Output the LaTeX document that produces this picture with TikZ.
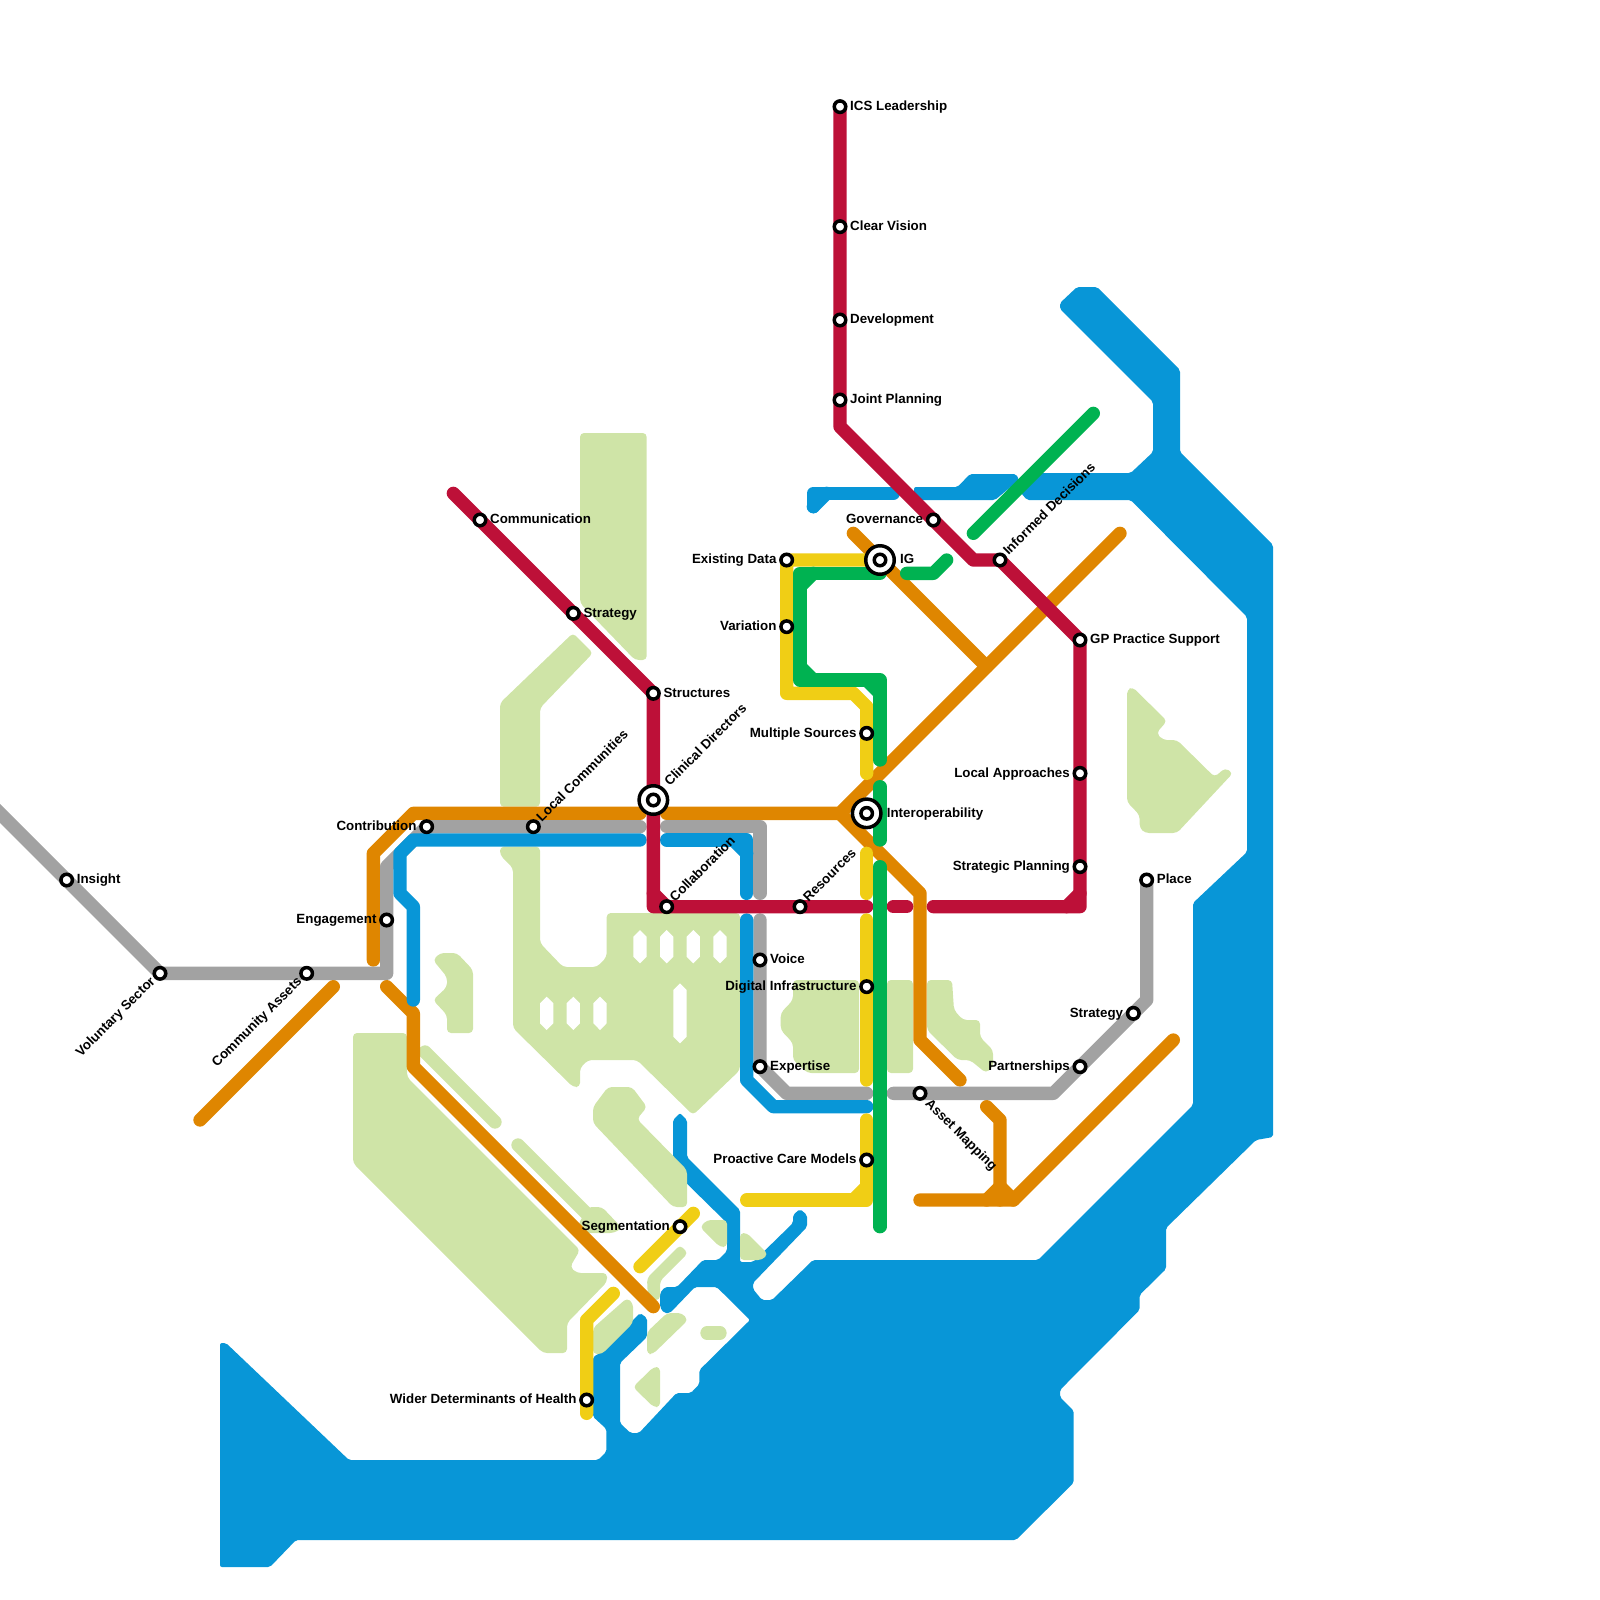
\documentclass[tikz,border=0pt]{standalone}
\usepackage{fontspec}
\setmainfont{Liberation Sans}
\usetikzlibrary{positioning,backgrounds}

\definecolor{waterblue}{HTML}{0896D7}
\definecolor{landgreen}{HTML}{CFE4A7}
\definecolor{railcrimson}{HTML}{BD1038}
\definecolor{railorange}{HTML}{DF8600}
\definecolor{railgray}{HTML}{A2A2A2}
\definecolor{railyellow}{HTML}{F0CE15}
\definecolor{railgreen}{HTML}{00B251}

\tikzset{
  station/.style={circle, draw=black, fill=white, line width=3.5pt, minimum size=11.5pt, inner sep=0pt},
  hub/.style={circle, draw=black, fill=white, line width=3.5pt, minimum size=28.5pt, inner sep=0pt},
  lbl/.style={font=\bfseries\fontsize{13.33}{15}\selectfont, inner sep=0pt, text height=9.6pt, text depth=2.8pt, yshift=-0.5pt},
  lblup/.style={lbl, anchor=west, xshift=6pt, yshift=7pt, rotate=45},
  lblhub/.style={lbl, anchor=west, xshift=14pt, yshift=16pt, rotate=45},
  lbldown/.style={lbl, anchor=west, xshift=7pt, yshift=-8pt, rotate=-45},
  lblback/.style={lbl, anchor=east, xshift=-6.5pt, yshift=-6pt, rotate=45},
  rail/.style={line width=13.333pt, line cap=round, line join=round},
  water/.style={fill=waterblue, rounded corners=2pt},
  land/.style={fill=landgreen, rounded corners=4pt},
  landline/.style={rail, draw=landgreen},
}

\begin{document}
\begin{tikzpicture}[x=13.3333pt, y=-13.3333pt]
  \useasboundingbox (0,0) rectangle (120,120);

  % Stationen
  \node[station] (ics)      at (63,  8) {};
  \node[station] (vision)   at (63, 17) {};
  \node[station] (develop)  at (63, 24) {};
  \node[station] (joint)    at (63, 30) {};
  \node[station] (insight)  at ( 5, 66) {};
  \node[station] (volunt)   at (12, 73) {};
  \node[station] (commass)  at (23, 73) {};
  \node[station] (engage)   at (29, 69) {};
  \node[station] (contrib)  at (32, 62) {};
  \node[station] (localcom) at (40, 62) {};
  \node[station] (comm)     at (36, 39) {};
  \node[station] (stratw)   at (43, 46) {};
  \node[station] (struct)   at (49, 52) {};
  \node[station] (collab)   at (50, 68) {};
  \node[station] (resour)   at (60, 68) {};
  \node[station] (existing) at (59, 42) {};
  \node[station] (variat)   at (59, 47) {};
  \node[station] (govern)   at (70, 39) {};
  \node[station] (informed) at (75, 42) {};
  \node[station] (gpsupp)   at (81, 48) {};
  \node[station] (multi)    at (65, 55) {};
  \node[station] (localapp) at (81, 58) {};
  \node[station] (stratpl)  at (81, 65) {};
  \node[station] (place)    at (86, 66) {};
  \node[station] (strate)   at (85, 76) {};
  \node[station] (partner)  at (81, 80) {};
  \node[station] (voice)    at (57, 72) {};
  \node[station] (digital)  at (65, 74) {};
  \node[station] (expert)   at (57, 80) {};
  \node[station] (asset)    at (69, 82) {};
  \node[station] (proact)   at (65, 87) {};
  \node[station] (segment)  at (51, 92) {};
  \node[station] (wider)    at (44,105) {};

  % Umsteigepunkte
  \node[hub] (clinical) at (49, 60) {};
  \node[hub] (ig)       at (66, 42) {};
  \node[hub] (interop)  at (65, 61) {};
  \node[station] (clinicalin) at (clinical) {};
  \node[station] (igin)       at (ig) {};
  \node[station] (interopin)  at (interop) {};

  % Beschriftungen
  \node[lbl, right=2.5pt of ics] (tics) {ICS Leadership};
  \node[lbl, right=2.5pt of vision] (tvision) {Clear Vision};
  \node[lbl, right=2.5pt of develop] (tdevelop) {Development};
  \node[lbl, right=2.5pt of joint] (tjoint) {Joint Planning};
  \node[lbl, right=2.5pt of insight] (tinsight) {Insight};
  \node[lbl, right=2.5pt of comm] (tcomm) {Communication};
  \node[lbl, right=2.5pt of stratw] (tstratw) {Strategy};
  \node[lbl, right=2.5pt of struct] (tstruct) {Structures};
  \node[lbl, right=2.5pt of gpsupp] (tgpsupp) {GP Practice Support};
  \node[lbl, right=2.5pt of place] (tplace) {Place};
  \node[lbl, right=2.5pt of voice] (tvoice) {Voice};
  \node[lbl, right=2.5pt of expert] (texpert) {Expertise};
  \node[lbl, right=4pt of ig] (tig) {IG};
  \node[lbl, right=4pt of interop] (tinterop) {Interoperability};
  \node[lbl, left=2.5pt of engage] (tengage) {Engagement};
  \node[lbl, left=2.5pt of contrib] (tcontrib) {Contribution};
  \node[lbl, left=2.5pt of existing] (texisting) {Existing Data};
  \node[lbl, left=2.5pt of variat] (tvariat) {Variation};
  \node[lbl, left=2.5pt of govern] (tgovern) {Governance};
  \node[lbl, left=2.5pt of multi] (tmulti) {Multiple Sources};
  \node[lbl, left=2.5pt of localapp] (tlocalapp) {Local Approaches};
  \node[lbl, left=2.5pt of stratpl] (tstratpl) {Strategic Planning};
  \node[lbl, left=2.5pt of strate] (tstrate) {Strategy};
  \node[lbl, left=2.5pt of partner] (tpartner) {Partnerships};
  \node[lbl, left=2.5pt of digital] (tdigital) {Digital Infrastructure};
  \node[lbl, left=2.5pt of proact] (tproact) {Proactive Care Models};
  \node[lbl, left=2.5pt of segment] (tsegment) {Segmentation};
  \node[lbl, left=2.5pt of wider] (twider) {Wider Determinants of Health};
  \node[lblup] (tlocalcom) at (localcom) {Local Communities};
  \node[lblhub] (tclinical) at (clinical) {Clinical Directors};
  \node[lblup] (tcollab) at (collab) {Collaboration};
  \node[lblup] (tresour) at (resour) {Resources};
  \node[lblup] (tinformed) at (informed) {Informed Decisions};
  \node[lbldown] (tasset) at (asset) {Asset Mapping};
  \node[lblback] (tvolunt) at (volunt) {Voluntary Sector};
  \node[lblback] (tcommass) at (commass) {Community Assets};

  \begin{pgfonlayer}{background}
    \begin{scope}[x=1pt, y=-1pt]
      % Wasser
      \fill[water] (1027,473) -- (1130.7,473) -- (1153,452) -- (1153,402) -- (1060,309) -- (1060,303)
        -- (1077,287) -- (1097,287) -- (1180,370) -- (1180,452) -- (1273,545) -- (1273,1137) -- (1256,1140)
        -- (1166,1228) -- (1166,1269) -- (1139.6,1295) -- (1139.6,1310) -- (1060,1390) -- (1060,1397)
        -- (1073.7,1410.7) -- (1073.7,1482.7) -- (1016,1540) -- (296,1540) -- (270,1567) -- (220,1567)
        -- (220,1343) -- (226,1343) -- (349,1460) -- (598,1460) -- (606.4,1451.7) -- (606.4,1429)
        -- (593,1416.7) -- (593,1357) -- (600,1353) -- (635,1318) -- (640,1313) -- (647,1318) -- (647,1337)
        -- (620,1363) -- (620,1423) -- (630.5,1433) -- (639,1433) -- (676.5,1393) -- (690.8,1393)
        -- (699.4,1384) -- (699.4,1370) -- (750,1320) -- (716.7,1287) -- (695,1287) -- (670,1313)
        -- (664,1313) -- (660,1307) -- (660,1293) -- (665,1287) -- (677,1287) -- (703,1260) -- (718,1260)
        -- (727,1251) -- (727,1223) -- (673,1170) -- (673,1120) -- (680,1113) -- (687,1120) -- (687,1157)
        -- (740,1210) -- (740,1262) -- (753,1262) -- (793,1223) -- (793,1215) -- (800,1209) -- (807,1215)
        -- (807,1227) -- (753,1283) -- (753,1289) -- (762,1300) -- (772,1300) -- (813,1260) -- (1038,1260)
        -- (1193,1105) -- (1193,903) -- (1247,852) -- (1247,617) -- (1130.7,500) -- (1027,500) -- (1021,493)
        -- (1021,480) -- cycle;
      \fill[water] (914,493) -- (914,487) -- (957.5,487) -- (970,474) -- (1016,474) -- (1019,480)
        -- (995,500) -- (914,500) -- cycle;

      % Land
      \fill[land] (580,433) -- (646.7,433) -- (646.7,660) -- (635,660) -- (580,603) -- cycle;
      \fill[land] (573,633) -- (593,653) -- (540,708) -- (540,806.7) -- (500,806.7) -- (500,703) -- cycle;
      \fill[land] (500,846.7) -- (540,846.7) -- (540,943) -- (563,967) -- (597,967) -- (606.7,957)
        -- (606.7,913) -- (740,913) -- (740,1070) -- (693,1115) -- (637,1060) -- (588,1060) -- (580,1068)
        -- (580,1087) -- (573,1087) -- (513,1028) -- (513,868) -- (500,855) -- cycle;
      \fill[land] (433,960) -- (440,953) -- (457,953) -- (473,970) -- (473,1033) -- (447,1033) -- (447,1015)
        -- (433,1000) -- (447,987) -- (447,977) -- cycle;
      \fill[land] (353,1033) -- (407,1033) -- (407,1077) -- (580,1250) -- (570,1267) -- (577,1273) -- (607,1273)
        -- (607,1282) -- (567,1323) -- (567,1353) -- (543,1353) -- (353,1163) -- cycle;
      \fill[land] (593,1107) -- (608,1087) -- (632,1087) -- (647,1107) -- (637,1119) -- (687,1170) -- (687,1207)
        -- (673,1207) -- (593,1123) -- cycle;
      \fill[land] (588,1207) -- (602,1207) -- (622,1228) -- (614,1233) -- (583,1233) -- (578,1225) -- cycle;
      \fill[land] (700,1227) -- (707,1220) -- (727,1220) -- (727,1247) -- (720,1247) -- cycle;
      \fill[land] (740,1233) -- (747,1233) -- (768,1254) -- (762,1260) -- (740,1260) -- cycle;
      \fill[land] (647,1278) -- (680,1245) -- (688,1253) -- (660,1281) -- (660,1300) -- (648,1300) -- cycle;
      \fill[land] (593,1328) -- (627,1298) -- (633,1303) -- (633,1323) -- (602,1354) -- (593,1354) -- cycle;
      \fill[land] (647,1332) -- (667,1313) -- (682,1313) -- (688,1320) -- (653,1354) -- (647,1354) -- cycle;
      \fill[land] (633,1387) -- (653.5,1367) -- (660,1367) -- (660,1407) -- (653.5,1407) -- cycle;
      \fill[land] (1127,690) -- (1132.5,687) -- (1167,721) -- (1156.4,733) -- (1163,740) -- (1177,740)
        -- (1214.6,777) -- (1225,768) -- (1233,773) -- (1177,833) -- (1145,833) -- (1139.6,828) -- (1139.6,815)
        -- (1127,802) -- cycle;
      \fill[land] (793,980) -- (859,980) -- (859,1073) -- (807.5,1073) -- (793,1060) -- (793,1043) -- (780.7,1030)
        -- (780.7,1013) -- (793,1000) -- cycle;
      \fill[land] (887,980) -- (913,980) -- (913,1073) -- (887,1073) -- cycle;
      \fill[land] (927,980) -- (952,980) -- (954,1010) -- (963,1020) -- (980,1020) -- (980,1037) -- (993,1050)
        -- (993,1067) -- (986,1073) -- (970,1060) -- (957.5,1060) -- (927,1030) -- cycle;
      \draw[landline] (425,1052) -- (495,1122);
      \draw[landline] (518,1145) -- (597,1224);
      \draw[landline] (707,1333) -- (720,1333);

      % Aussparungen
      \foreach \hx in {640,666.7,693.3,720}
        \fill[white] (\hx-6.67,936.7) -- (\hx,930) -- (\hx+6.67,936.7) -- (\hx+6.67,956.7) -- (\hx,963.3) -- (\hx-6.67,956.7) -- cycle;
      \foreach \hx in {546.7,573.3,600}
        \fill[white] (\hx-6.67,1003.3) -- (\hx,996.7) -- (\hx+6.67,1003.3) -- (\hx+6.67,1023.3) -- (\hx,1030) -- (\hx-6.67,1023.3) -- cycle;
      \fill[white] (673.3,990) -- (680,983.3) -- (686.7,990) -- (686.7,1036.7) -- (680,1043.3) -- (673.3,1036.7) -- cycle;
    \end{scope}

    % Linie orange
    \draw[rail, railorange] (28,72) -- (28,64) -- (31,61) -- (48,61);
    \draw[rail, railorange] (50,61) -- (63,61) -- (84,40);
    \draw[rail, railorange] (63,61) -- (69,67) -- (69,78) -- (72,81);
    \draw[rail, railorange] (64,40) -- (74,50);
    \draw[rail, railorange] (15,84) -- (25,74);
    \draw[rail, railorange] (29,74) -- (31,76) -- (31,80) -- (49,98);
    \draw[rail, railorange] (69,90) -- (76,90) -- (88,78);
    \draw[rail, railorange] (74,83) -- (75,84) -- (75,90);
    \draw[rail, railorange] (74,90) -- (75,89) -- (76,90);

    % Linie grau
    \draw[rail, railgray] (-1,60) -- (insight.center) -- (volunt.center) -- (commass.center) -- (29,73)
      -- (engage.center) -- (29,65) -- (32,62) -- (contrib.center) -- (localcom.center) -- (48,62);
    \draw[rail, railgray] (50,62) -- (57,62) -- (57,67);
    \draw[rail, railgray] (57,69) -- (voice.center) -- (expert.center) -- (59,82) -- (65,82);
    \draw[rail, railgray] (67,82) -- (asset.center) -- (79,82) -- (partner.center) -- (strate.center) -- (86,75) -- (place.center);

    % Linie blau
    \draw[rail, waterblue] (48,63) -- (31,63) -- (30,64) -- (30,67) -- (31,68) -- (31,75);
    \draw[rail, waterblue] (50,63) -- (56,63) -- (56,67);
    \draw[rail, waterblue] (55,63) -- (56,64);
    \draw[rail, waterblue] (56,69) -- (56,81) -- (58,83) -- (65,83);
    \draw[rail, waterblue] (61,38) -- (61,37) -- (67,37);
    \draw[rail, waterblue] (61,38) -- (62,37);

    % Linie rot
    \draw[rail, railcrimson] (ics.center) -- (vision.center) -- (develop.center) -- (joint.center) -- (63,32)
      -- (govern.center) -- (73,42) -- (informed.center) -- (gpsupp.center) -- (localapp.center) -- (stratpl.center)
      -- (81,68) -- (70,68);
    \draw[rail, railcrimson] (81,67) -- (80,68);
    \draw[rail, railcrimson] (34,37) -- (comm.center) -- (stratw.center) -- (struct.center) -- (clinical.center)
      -- (49,68) -- (collab.center) -- (resour.center) -- (65,68);
    \draw[rail, railcrimson] (49,67) -- (50,68);
    \draw[rail, railcrimson] (67,68) -- (68,68);

    % Linie gelb
    \draw[rail, railyellow] (ig.center) -- (existing.center) -- (variat.center) -- (59,52) -- (64,52) -- (65,53)
      -- (multi.center) -- (65,58);
    \draw[rail, railyellow] (65,64) -- (65,67);
    \draw[rail, railyellow] (65,69) -- (digital.center) -- (65,81);
    \draw[rail, railyellow] (65,84) -- (proact.center) -- (65,90) -- (56,90);
    \draw[rail, railyellow] (65,89) -- (64,90);
    \draw[rail, railyellow] (48,95) -- (segment.center) -- (52,91);
    \draw[rail, railyellow] (46,97) -- (44,99) -- (wider.center) -- (44,106);

    % Linie gruen
    \draw[rail, railgreen] (66,43) -- (60,43) -- (60,51) -- (66,51) -- (66,57);
    \draw[rail, railgreen] (61,43) -- (60,44);
    \draw[rail, railgreen] (60,50) -- (61,51);
    \draw[rail, railgreen] (65,51) -- (66,52);
    \draw[rail, railgreen] (66,59) -- (66,63);
    \draw[rail, railgreen] (66,65) -- (66,92);
    \draw[rail, railgreen] (68,43) -- (70,43) -- (71,42);
    \draw[rail, railgreen] (73,40) -- (82,31);
  \end{pgfonlayer}
\end{tikzpicture}
\end{document}
